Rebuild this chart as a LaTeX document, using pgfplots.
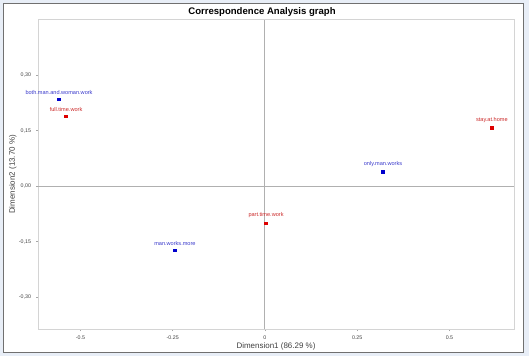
\documentclass[border=0pt]{standalone}
\usepackage{pgfplots}
\pgfplotsset{compat=1.18}
\usepackage{fontspec}
\setmainfont{Liberation Sans}
\definecolor{bgblue}{HTML}{E8EEF7}
\definecolor{framegray}{HTML}{707070}
\definecolor{plotgray}{HTML}{D4D4D4}
\definecolor{zerogray}{HTML}{B0B0B0}
\definecolor{ptblue}{HTML}{0000CC}
\definecolor{lblblue}{HTML}{3A3ACC}
\definecolor{ptred}{HTML}{DD0000}
\definecolor{lblred}{HTML}{CC2A2A}
\pgfplotstableread{
x y label
-0.558 0.235 both.man.and.woman.work
0.320 0.038 only.man.works
-0.244 -0.173 man.works.more
}\rowtab
\pgfplotstableread{
x y label
-0.539 0.189 full.time.work
0.615 0.159 stay.at.home
0.003 -0.100 part.time.work
}\coltab
\begin{document}
\begin{tikzpicture}
\useasboundingbox (0bp,0bp) rectangle (529bp,356bp);
\fill[bgblue] (0bp,0bp) rectangle (529bp,356bp);
\filldraw[fill=white, draw=framegray, line width=1.2bp] (3.5bp,3.5bp) rectangle (523.5bp,352.5bp);
\node[font=\fontsize{9.6}{11}\selectfont\bfseries, anchor=center] at (262bp,344bp) {Correspondence Analysis graph};
\begin{axis}[
  at={(38bp,27bp)}, anchor=south west,
  scale only axis, width=476bp, height=309bp,
  xmin=-0.615, xmax=0.675, ymin=-0.386, ymax=0.449,
  axis line style={plotgray, line width=1bp},
  xtick={-0.5,-0.25,0,0.25,0.5},
  xticklabels={-0.5,-0.25,0,0.25,0.5},
  ytick={-0.3,-0.15,0,0.15,0.3},
  yticklabels={{-0,30},{-0,15},{0,00},{0,15},{0,30}},
  tick align=outside, major tick length=2bp,
  tick style={gray!70, line width=0.5bp},
  xtick pos=bottom, ytick pos=left,
  tick label style={font=\fontsize{5.3}{6}\selectfont, text=black!75},
  xticklabel style={yshift=-1.5bp},
  yticklabel style={xshift=-1.5bp},
  xlabel={Dimension1 (86.29 \%)},
  ylabel={Dimension2 (13.70 \%)},
  label style={font=\fontsize{8}{9}\selectfont, text=black!75},
  xlabel style={at={(axis description cs:0.5,0)}, anchor=north, yshift=-10bp},
  ylabel style={at={(axis description cs:0,0.5)}, anchor=south, yshift=18bp},
  clip=false,
  nodes near coords, point meta=explicit symbolic,
]
\draw[zerogray, line width=1.1bp] (axis cs:0,-0.386) -- (axis cs:0,0.449);
\draw[zerogray, line width=1.1bp] (axis cs:-0.615,0) -- (axis cs:0.675,0);
\addplot[only marks, mark=square*, mark size=1.4bp, color=ptblue,
  nodes near coords style={font=\fontsize{5.6}{6}\selectfont, text=lblblue, anchor=south, yshift=1.5bp}]
  table[x=x, y=y, meta=label] {\rowtab};
\addplot[only marks, mark=square*, mark size=1.4bp, color=ptred,
  nodes near coords style={font=\fontsize{5.6}{6}\selectfont, text=lblred, anchor=south, yshift=1.5bp}]
  table[x=x, y=y, meta=label] {\coltab};
\end{axis}
\end{tikzpicture}
\end{document}
